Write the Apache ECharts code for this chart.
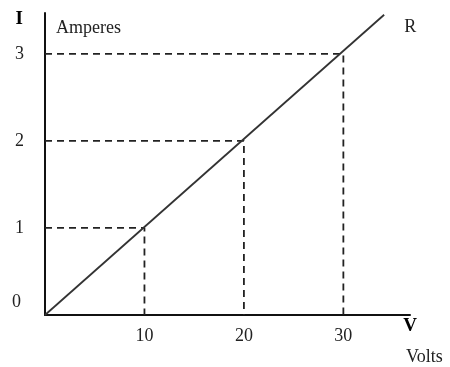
<!DOCTYPE html>
<html>
<head>
<meta charset="utf-8">
<script src="https://cdn.jsdelivr.net/npm/echarts@6/dist/echarts.min.js"></script>
<style>
  html, body { margin: 0; padding: 0; background: #fff; }
  #chart { width: 450px; height: 367px; }
</style>
</head>
<body>
<div id="chart"></div>
<script>
// line R: current (A) against voltage (V)
const voltsR = [0, 34.1]
const ampsR = [0, 3.45]

// points marked with dashed guide lines
const guideVolts = [10, 20, 30]
const guideAmps = [1, 2, 3]

const xTicks = [10, 20, 30]
const yTicks = [0, 1, 2, 3]

const font = 'Liberation Serif, DejaVu Serif, serif'

const chart = echarts.init(document.getElementById('chart'))

const guideSeries = guideVolts.map((v, i) => ({
  type: 'line',
  data: [[0, guideAmps[i]], [v, guideAmps[i]], [v, 0]],
  symbol: 'none',
  silent: true,
  lineStyle: { color: '#222', width: 1.8, type: [7, 5] },
  z: 1
}))

const option = {
  animation: false,
  grid: { left: 45, right: 40, top: 13, bottom: 52 },
  xAxis: {
    type: 'value',
    min: 0,
    max: 36.7,
    interval: 10,
    name: 'V',
    nameLocation: 'end',
    nameGap: 0,
    nameTextStyle: {
      fontFamily: font, fontSize: 19, fontWeight: 'bold', color: '#000',
      align: 'center', verticalAlign: 'top', padding: [2, 0, 0, 0]
    },
    axisLine: { lineStyle: { color: '#111', width: 2 } },
    axisTick: { show: false },
    splitLine: { show: false },
    axisLabel: {
      fontFamily: font, fontSize: 18, color: '#222', margin: 12,
      formatter: v => (xTicks.includes(v) ? String(v) : '')
    }
  },
  yAxis: {
    type: 'value',
    min: 0,
    max: 3.47,
    interval: 1,
    name: 'I',
    nameLocation: 'end',
    nameGap: -6,
    nameTextStyle: {
      fontFamily: font, fontSize: 19, fontWeight: 'bold', color: '#000',
      align: 'right', verticalAlign: 'middle', padding: [0, 22, 0, 0]
    },
    axisLine: { lineStyle: { color: '#111', width: 2 } },
    axisTick: { show: false },
    splitLine: { show: false },
    axisLabel: {
      fontFamily: font, fontSize: 18, color: '#222', margin: 21,
      formatter: v => {
        if (!yTicks.includes(v)) return ''
        return v === 0 ? '{z|0}' : String(v)
      },
      rich: {
        z: { fontFamily: font, fontSize: 18, color: '#222', padding: [0, 3, 26, 0] }
      }
    }
  },
  graphic: [
    {
      type: 'text', left: 56, top: 19,
      style: { text: 'Amperes', fontFamily: font, fontSize: 18, fill: '#222' }
    },
    {
      type: 'text', left: 406, top: 348,
      style: { text: 'Volts', fontFamily: font, fontSize: 18, fill: '#222' }
    }
  ],
  series: [
    ...guideSeries,
    {
      type: 'line',
      data: voltsR.map((v, i) => [v, ampsR[i]]),
      symbol: 'none',
      lineStyle: { color: '#333', width: 1.8 },
      endLabel: {
        show: true,
        formatter: 'R',
        fontFamily: font,
        fontSize: 18,
        color: '#222',
        offset: [12, 13]
      },
      z: 3
    }
  ]
}

chart.setOption(option)
</script>
</body>
</html>
